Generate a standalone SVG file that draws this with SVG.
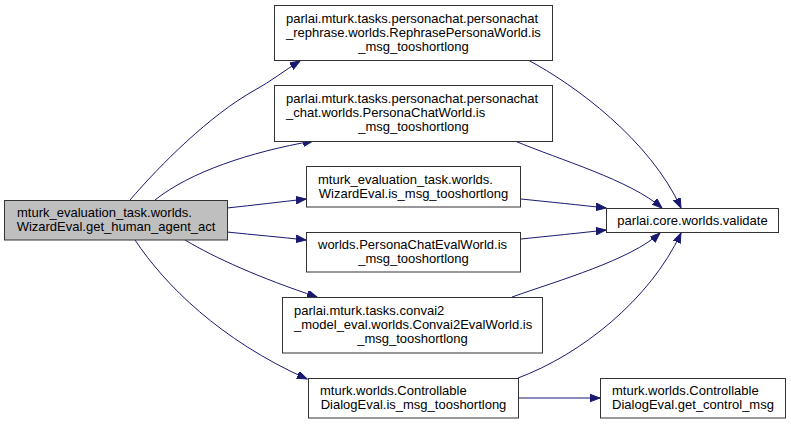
<svg xmlns="http://www.w3.org/2000/svg" width="791" height="425" viewBox="0 0 791 425">
<defs>
<marker id="ah" markerUnits="userSpaceOnUse" markerWidth="11" markerHeight="8" refX="10" refY="3.75" orient="auto">
<path d="M0,0 L10,3.75 L0,7.5 z" fill="#191970" stroke="#191970" stroke-width="1"/>
</marker>
<style>
.n rect{fill:#ffffff;stroke:#333333;stroke-width:1}
.n.hl rect{fill:#bfbfbf}
.n text{font-family:"Liberation Sans",Arial,Helvetica,sans-serif;font-size:13px;fill:#000}
.c{text-anchor:middle}
#edges path{fill:none;stroke:#191970;stroke-width:1;marker-end:url(#ah)}
</style>
</defs>
<rect width="791" height="425" fill="#ffffff"/>
<g id="edges">
<path d="M130,200 C160,165 210,115 255,90 C270,82 285,70 300,61"/>
<path d="M155,200 C190,172 250,152 313,141"/>
<path d="M227,208 C255,205 280,202 306,199"/>
<path d="M227,232 C255,235 280,237 306,240"/>
<path d="M185,240 C215,258 260,278 317,297"/>
<path d="M135,240 C165,285 220,340 307,379"/>
<path d="M528,60 C575,85 650,140 681,208"/>
<path d="M515,141 C560,160 630,180 662,208"/>
<path d="M521,199 C550,202 580,205 606,208"/>
<path d="M521,239 C550,236 580,233 606,230"/>
<path d="M512,297 C560,280 630,260 660,233"/>
<path d="M518,378 C580,355 650,300 681,233"/>
<path d="M518,398 L600,398"/>
</g>
<g id="n_get_human_agent_act" class="n hl">
<rect x="4.5" y="200.5" width="223" height="39.5"/>
<text x="17" y="217">mturk_evaluation_task.worlds.</text>
<text x="116" y="231" class="c">WizardEval.get_human_agent_act</text>
</g>
<g id="n_rephrase" class="n">
<rect x="274.5" y="5.5" width="278" height="55"/>
<text x="286" y="23">parlai.mturk.tasks.personachat.personachat</text>
<text x="286" y="37">_rephrase.worlds.RephrasePersonaWorld.is</text>
<text x="413.5" y="51" class="c">_msg_tooshortlong</text>
</g>
<g id="n_personachat" class="n">
<rect x="274.5" y="85.5" width="278" height="56"/>
<text x="286" y="103">parlai.mturk.tasks.personachat.personachat</text>
<text x="286" y="117">_chat.worlds.PersonaChatWorld.is</text>
<text x="413.5" y="131" class="c">_msg_tooshortlong</text>
</g>
<g id="n_wizardeval" class="n">
<rect x="306.5" y="166.5" width="214" height="40.5"/>
<text x="318" y="183.5">mturk_evaluation_task.worlds.</text>
<text x="413.5" y="197.5" class="c">WizardEval.is_msg_tooshortlong</text>
</g>
<g id="n_personachateval" class="n">
<rect x="306.5" y="232.5" width="214" height="39.5"/>
<text x="318" y="249">worlds.PersonaChatEvalWorld.is</text>
<text x="413.5" y="263" class="c">_msg_tooshortlong</text>
</g>
<g id="n_convai2" class="n">
<rect x="282.5" y="297.5" width="260" height="55.5"/>
<text x="294" y="314.5">parlai.mturk.tasks.convai2</text>
<text x="294" y="328.5">_model_eval.worlds.Convai2EvalWorld.is</text>
<text x="412.5" y="342.5" class="c">_msg_tooshortlong</text>
</g>
<g id="n_controllable" class="n">
<rect x="308.5" y="378.5" width="210" height="39.5"/>
<text x="320" y="395">mturk.worlds.Controllable</text>
<text x="413.5" y="409" class="c">DialogEval.is_msg_tooshortlong</text>
</g>
<g id="n_validate" class="n">
<rect x="606.5" y="208.5" width="172" height="24"/>
<text x="692.5" y="225" class="c">parlai.core.worlds.validate</text>
</g>
<g id="n_get_control_msg" class="n">
<rect x="600.5" y="378.5" width="185" height="39.5"/>
<text x="612" y="395">mturk.worlds.Controllable</text>
<text x="693" y="409" class="c">DialogEval.get_control_msg</text>
</g>
</svg>
